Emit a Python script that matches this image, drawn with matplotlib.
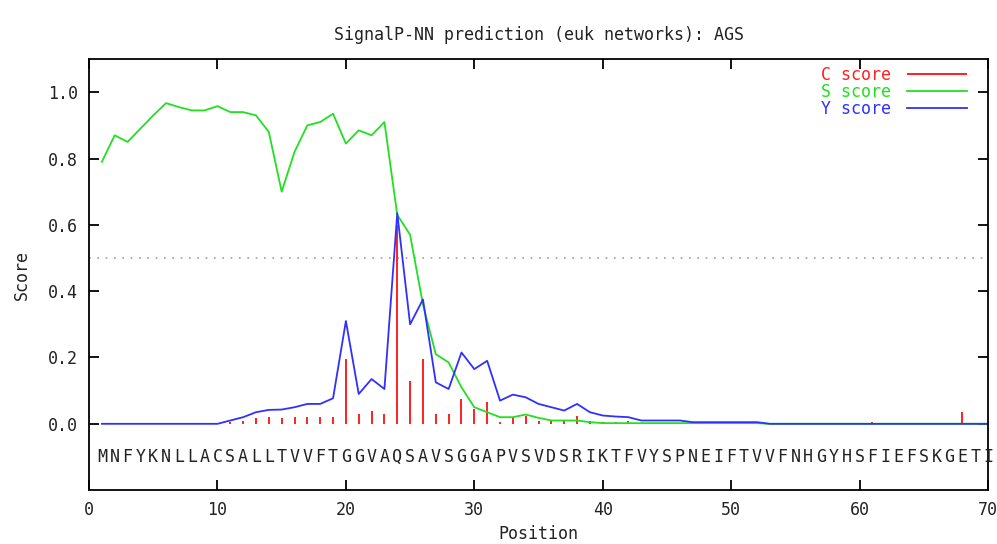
import numpy as np
import matplotlib
matplotlib.use("Agg")
import matplotlib.pyplot as plt

# sequence and per-position scores
sequence = "MNFYKNLLACSALLTVVFTGGVAQSAVSGGAPVSVDSRIKTFVYSPNEIFTVVFNHGYHSFIEFSKGETI"
positions = np.arange(1, len(sequence) + 1)

c_score = [
    0.0, 0.0, 0.0, 0.0, 0.0, 0.0, 0.0, 0.0, 0.0, 0.0,
    0.005, 0.008, 0.018, 0.02, 0.018, 0.02, 0.02, 0.02, 0.02, 0.195,
    0.03, 0.04, 0.03, 0.60, 0.13, 0.195, 0.03, 0.03, 0.075, 0.045,
    0.065, 0.005, 0.02, 0.025, 0.007, 0.007, 0.007, 0.025, 0.01, 0.005,
    0.005, 0.01, 0.003, 0.003, 0.003, 0.003, 0.003, 0.003, 0.003, 0.003,
    0.003, 0.003, 0.003, 0.003, 0.003, 0.003, 0.003, 0.003, 0.003, 0.003,
    0.005, 0.003, 0.003, 0.003, 0.003, 0.003, 0.003, 0.035, 0.003, 0.003,
]

s_score = [
    0.79, 0.87, 0.85, 0.89, 0.93, 0.967, 0.955, 0.945, 0.945, 0.958,
    0.94, 0.94, 0.93, 0.88, 0.70, 0.82, 0.90, 0.91, 0.935, 0.845,
    0.885, 0.87, 0.91, 0.63, 0.57, 0.36, 0.21, 0.185, 0.11, 0.05,
    0.035, 0.02, 0.02, 0.028, 0.018, 0.01, 0.01, 0.01, 0.005, 0.002,
    0.002, 0.002, 0.002, 0.002, 0.002, 0.002, 0.002, 0.002, 0.002, 0.002,
    0.002, 0.002, 0.0, 0.0, 0.0, 0.0, 0.0, 0.0, 0.0, 0.0,
    0.0, 0.0, 0.0, 0.0, 0.0, 0.0, 0.0, 0.0, 0.0, 0.0,
]

y_score = [
    0.0, 0.0, 0.0, 0.0, 0.0, 0.0, 0.0, 0.0, 0.0, 0.0,
    0.01, 0.02, 0.035, 0.042, 0.043, 0.05, 0.06, 0.06, 0.077, 0.31,
    0.09, 0.135, 0.105, 0.635, 0.30, 0.375, 0.125, 0.105, 0.215, 0.165,
    0.19, 0.07, 0.088, 0.08, 0.06, 0.05, 0.04, 0.06, 0.035, 0.025,
    0.022, 0.02, 0.01, 0.01, 0.01, 0.01, 0.005, 0.005, 0.005, 0.005,
    0.005, 0.005, 0.0, 0.0, 0.0, 0.0, 0.0, 0.0, 0.0, 0.0,
    0.0, 0.0, 0.0, 0.0, 0.0, 0.0, 0.0, 0.0, 0.0, 0.0,
]

threshold = 0.5
mono = "DejaVu Sans Mono"
colors = ["#ff2020", "#20e020", "#3030ff"]

fig = plt.figure(figsize=(9.97, 5.44), dpi=100)
ax = fig.add_axes([0.0893, 0.099, 0.9017, 0.7925])

ax.axhline(threshold, color="#c09090", linestyle=(0, (1, 4)), linewidth=1.2)

ax.vlines(positions, 0, c_score, color=colors[0], linewidth=1.4, label="C score")
ax.plot(positions, s_score, color=colors[1], linewidth=1.3, label="S score")
ax.plot(positions, y_score, color=colors[2], linewidth=1.3, label="Y score")

for p, aa in zip(positions, sequence):
    ax.text(p, -0.1, aa, ha="center", va="center", family=mono, fontsize=12,
            color="#222222")

ax.set_xlim(0, 70)
ax.set_ylim(-0.2, 1.1)
ax.set_xticks(np.arange(0, 71, 10))
ax.set_yticks(np.arange(0, 1.01, 0.2))
ax.set_yticklabels([f"{v:.1f}" for v in np.arange(0, 1.01, 0.2)])
ax.tick_params(direction="in", length=7, width=1.3, top=True, right=True,
               labelsize=12, pad=8, labelcolor="#222222")
for lab in ax.get_xticklabels() + ax.get_yticklabels():
    lab.set_family(mono)
for sp in ax.spines.values():
    sp.set_linewidth(1.3)

ax.set_title("SignalP-NN prediction (euk networks): AGS", family=mono,
             fontsize=12, pad=14, color="#222222")
ax.set_xlabel("Position", family=mono, fontsize=12, labelpad=4, color="#222222")
ax.set_ylabel("Score", family=mono, fontsize=12, labelpad=12, color="#222222")

leg = ax.legend(loc="upper right", frameon=False, markerfirst=False,
                prop={"family": mono, "size": 12},
                handlelength=3.6, handletextpad=1.0, labelspacing=-0.05,
                borderaxespad=0.3, bbox_to_anchor=(0.99, 1.012))
for txt, col in zip(leg.get_texts(), colors):
    txt.set_color(col)

fig.savefig("out.png", dpi=100)
